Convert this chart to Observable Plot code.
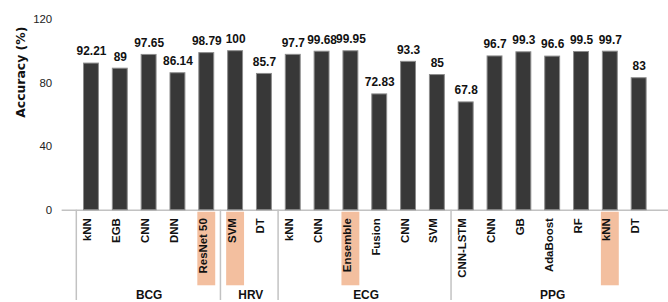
<!DOCTYPE html>
<html><head><meta charset="utf-8">
<script src="https://cdn.jsdelivr.net/npm/d3@7"></script>
<script src="https://cdn.jsdelivr.net/npm/@observablehq/plot@0.6"></script>
<style>html,body{margin:0;padding:0;background:#fff;overflow:hidden}</style>
</head><body><div id="chart"></div>
<script>
const methods = ["kNN","EGB","CNN","DNN","ResNet 50","SVM","DT","kNN","CNN","Ensemble","Fusion","CNN","SVM","CNN-LSTM","CNN","GB","AdaBoost","RF","kNN","DT"];
const signals = ["BCG","BCG","BCG","BCG","BCG","HRV","HRV","ECG","ECG","ECG","ECG","ECG","ECG","PPG","PPG","PPG","PPG","PPG","PPG","PPG"];
const accuracy = [92.21,89,97.65,86.14,98.79,100,85.7,97.7,99.68,99.95,72.83,93.3,85,67.8,96.7,99.3,96.6,99.5,99.7,83];
const bestIndex = [4,5,9,18];
const groups = ["BCG","HRV","ECG","PPG"];
const yTicks = [0,40,80,120];
const yLabel = "Accuracy (%)";

const W = 672, H = 302, mL = 62, mR = 0, mT = 19, mB = 91;
const keys = methods.map((_, i) => String(i));
const step = (W - mL - mR) / keys.length;
const pxPerUnit = (H - mT - mB) / 120;
const toUnits = px => -px / pxPerUnit;   // pixel distance below the zero line -> data units

const rows = methods.map((m, i) => ({key: keys[i], method: m, signal: signals[i], acc: accuracy[i]}));
const best = bestIndex.map(i => rows[i]);
const firstOfGroup = groups.map(g => rows.find(r => r.signal === g));
const groupLabels = groups.map(g => {
  const idx = rows.map((r, i) => r.signal === g ? i : -1).filter(i => i >= 0);
  const mid = (idx[0] + idx[idx.length - 1]) / 2;
  return {key: keys[Math.floor(mid)], between: mid !== Math.floor(mid), name: g};
});

const chart = Plot.plot({
  width: W, height: H,
  marginLeft: mL, marginRight: mR, marginTop: mT, marginBottom: mB,
  style: {fontFamily: "'Liberation Sans', Arial, sans-serif", fontSize: "11px", color: "#222", background: "#fff"},
  x: {domain: keys, padding: 0.475, axis: null},
  y: {domain: [0, 120]},
  marks: [
    Plot.axisY({ticks: yTicks, tickSize: 0, tickPadding: 10, label: null, fontSize: 11.5}),
    Plot.text([yLabel], {text: d => d, frameAnchor: "left", dx: -41, dy: 3, rotate: -90, fontFamily: "'DejaVu Sans', sans-serif", fontWeight: "bold", fontSize: 12.5, fill: "#111"}),
    Plot.barY(best, {x: "key", y1: toUnits(2), y2: toUnits(76), fill: "#f3bf9f", insetLeft: -1.5, insetRight: -1.5}),
    Plot.ruleX(firstOfGroup, {x: "key", y1: 0, y2: toUnits(mB), dx: -step / 2, stroke: "#c2c2c2", strokeWidth: 1.5}),
    Plot.ruleY([0], {stroke: "#c2c2c2", strokeWidth: 1.5}),
    Plot.barY(rows, {x: "key", y: "acc", fill: "#383838", stroke: "#8c8c8c", strokeWidth: 1}),
    Plot.text(rows, {x: "key", y: "acc", text: d => String(d.acc), dy: -12, fontWeight: "bold", fontSize: 12, fill: "#111"}),
    Plot.text(rows, {x: "key", text: "method", frameAnchor: "bottom", dy: 8, rotate: -90, textAnchor: "end", fontWeight: "bold", fontSize: 11.5, fill: "#111"}),
    Plot.text(groupLabels.filter(d => !d.between), {x: "key", y: toUnits(85), text: "name", fontWeight: "bold", fontSize: 12, fill: "#111"}),
    Plot.text(groupLabels.filter(d => d.between), {x: "key", y: toUnits(85), dx: step / 2, text: "name", fontWeight: "bold", fontSize: 12, fill: "#111"})
  ]
});
document.getElementById("chart").append(chart);
</script>
</body></html>
